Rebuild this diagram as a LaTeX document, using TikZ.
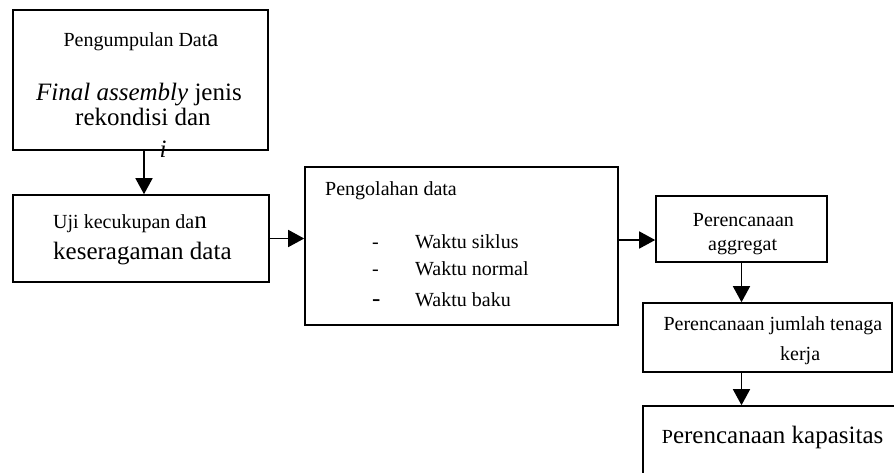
\documentclass[tikz,border=0pt]{standalone}
\usepackage{fontspec}
\setmainfont{Liberation Serif}
\usetikzlibrary{arrows.meta}
\newcommand\fsA{\fontsize{20}{24}\selectfont}
\newcommand\fsB{\fontsize{25}{30}\selectfont}
\tikzset{
  box/.style={draw, line width=1.6pt, inner sep=0pt, rectangle},
  txt/.style={inner sep=0pt, anchor=base west},
  arr/.style={line width=1.5pt, -{Triangle[length=16pt,width=17pt]}},
}
\begin{document}
\begin{tikzpicture}[x=1pt,y=-1pt]
\useasboundingbox (0,0) rectangle (894,472);
\clip (0,0) rectangle (894,472);
% boxes
\node[box, minimum width=255pt, minimum height=140pt] (b1) at (140.5,80) {};
\node[box, minimum width=256pt, minimum height=87pt] (b2) at (141,238.5) {};
\node[box, minimum width=313pt, minimum height=158pt] (b3) at (461.5,246) {};
\node[box, minimum width=171pt, minimum height=66pt] (b4) at (741.5,229) {};
\node[box, minimum width=249pt, minimum height=69pt] (b5) at (767.5,337.5) {};
\node[box, minimum width=277pt, minimum height=94pt] (b6) at (781.5,453) {};
% texts box 1
\node[txt] (t1a) at (63.3,46) {\fsA Pengumpulan Dat\fsB a};
\node[txt] (t1b) at (36,100) {\fsB\textit{Final assembly} jenis};
\node[txt] (t1c) at (75,125) {\fsB rekondisi dan};
\node[inner sep=0pt, anchor=base] (t1d) at (163,157) {\fsB\textit{i}};
% box 2
\node[txt] (t2a) at (53,228) {\fsA Uji kecukupan da\fsB n};
\node[txt] (t2b) at (53,259) {\fsB keseragaman data};
% box 3
\node[txt] (t3a) at (325,195) {\fsA Pengolahan data};
\node[txt] (d1) at (372,248) {\fsA -};
\node[txt] (d2) at (372,275) {\fsA -};
\node[txt] (d3) at (372,306) {\fsB -};
\node[txt] (t3b) at (415,248) {\fsA Waktu siklus};
\node[txt] (t3c) at (415,275) {\fsA Waktu normal};
\node[txt] (t3d) at (415,306) {\fsA Waktu baku};
% box 4
\node[txt] (t4a) at (692.7,226.5) {\fsA Perencanaan};
\node[txt] (t4b) at (708,250.5) {\fsA aggregat};
% box 5
\node[txt] (t5a) at (663.3,330) {\fsA Perencanaan jumlah tenaga};
\node[txt] (t5b) at (780,360) {\fsA kerja};
% box 6
\node[txt] (t6a) at (661.7,443.5) {\fsA P\fsB erencanaan kapasitas};
% connectors
\coordinate (ax) at (144,0);
\coordinate (ry) at (0,240);
\draw[arr] (b1.south -| ax) -- (b2.north -| ax);
\draw[arr] (b2.east) -- (b2.east -| b3.west);
\draw[arr] (b3.east |- ry) -- (b4.west |- ry);
\draw[arr] (b4.south) -- (b5.north -| b4.south);
\draw[arr] (b5.south -| b4.south) -- (b6.north -| b4.south);
\end{tikzpicture}
\end{document}
